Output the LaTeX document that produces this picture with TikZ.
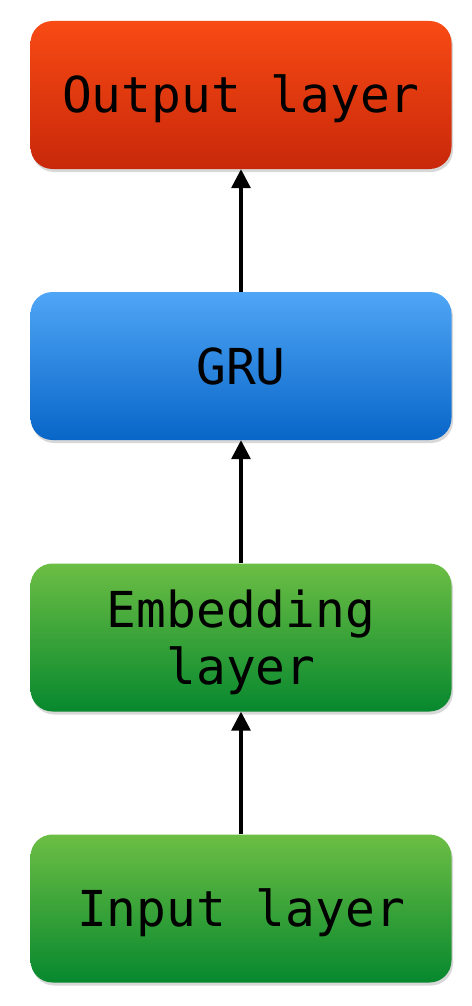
\documentclass[tikz,border=0pt]{standalone}
\usepackage{fontspec}
\setmonofont{DejaVu Sans Mono}
\usetikzlibrary{arrows.meta,shadows}

\tikzset{
  layer/.style={rounded corners=22pt, minimum width=421pt, minimum height=148pt,
    align=center, inner sep=0pt, text height=36pt, text depth=0pt,
    drop shadow={opacity=0.3, shadow xshift=1.5pt, shadow yshift=-3pt},
    font=\ttfamily\fontsize{49.5}{57}\selectfont},
  outlayer/.style={layer, top color={rgb,255:red,248;green,74;blue,20}, bottom color={rgb,255:red,200;green,40;blue,10}},
  grulayer/.style={layer, top color={rgb,255:red,80;green,166;blue,246}, bottom color={rgb,255:red,8;green,102;blue,200}},
  greenlayer/.style={layer, top color={rgb,255:red,108;green,190;blue,68}, bottom color={rgb,255:red,7;green,136;blue,46}},
  feed/.style={line width=3.4pt, -{Triangle[width=19pt, length=19pt]}},
}

\begin{document}
\begin{tikzpicture}[x=1pt, y=1pt]
            \useasboundingbox[fill=white] (0, 0) rectangle (471, -1006);

            \node[outlayer] (out) at (241, -95) {Output layer};
            \node[grulayer] (gru) at (241, -366) {GRU};
            \node[greenlayer, text height=93pt] (emb) at (241, -637.5) {Embedding\\layer};
            \node[greenlayer] (inp) at (241, -908.5) {Input layer};

            \draw[feed] (gru.north) to (out.south);
            \draw[feed] (emb.north) to (gru.south);
            \draw[feed] (inp.north) to (emb.south);
        \end{tikzpicture}
\end{document}
